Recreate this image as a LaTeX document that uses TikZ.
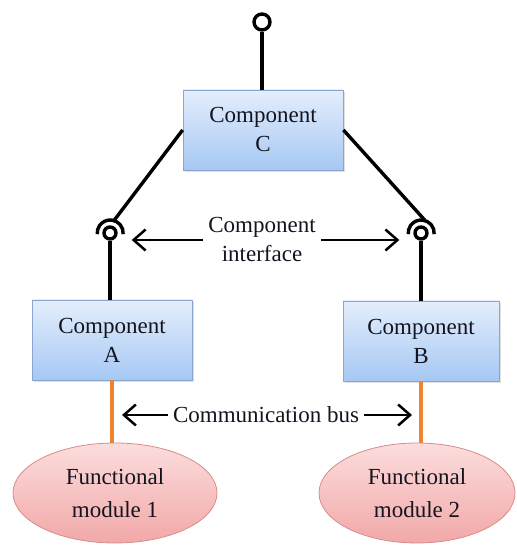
\documentclass[tikz,border=0pt]{standalone}
\usepackage{fontspec}
\setmainfont{Liberation Serif}
\usetikzlibrary{arrows.meta,shapes.geometric,shadows}

\definecolor{boxtop}{HTML}{E4EEFC}
\definecolor{boxbot}{HTML}{A6C8F4}
\definecolor{boxline}{HTML}{8AA6D0}
\definecolor{modtop}{HTML}{FCDDDD}
\definecolor{modbot}{HTML}{F2A8A8}
\definecolor{modline}{HTML}{D88C8C}
\definecolor{busline}{HTML}{EE8430}
\definecolor{ink}{HTML}{141420}

\newcommand\diaglabel{\fontsize{23}{29}\selectfont}

\begin{document}
\begin{tikzpicture}[x=1pt,y=1pt,
  comp/.style={rectangle, draw=boxline, line width=0.8pt,
    top color=boxtop, bottom color=boxbot,
    minimum height=80pt, align=center, font=\diaglabel, text=ink,
    drop shadow={opacity=0.25, shadow xshift=2pt, shadow yshift=-2.5pt}},
  module/.style={ellipse, draw=modline, line width=0.8pt,
    top color=modtop, bottom color=modbot,
    minimum height=100pt, inner sep=0pt, align=center,
    font=\fontsize{23}{33}\selectfont, text=ink},
  ball/.style={circle, draw=black, line width=3.4pt, inner sep=0pt},
  socket/.style={circle, inner sep=0pt, minimum size=26pt},
  wire/.style={draw=black, line width=3.4pt},
  bus/.style={draw=busline, line width=3.2pt},
  pointer/.style={line width=2.5pt, -{Straight Barb[length=12pt,width=21pt]}},
  caption/.style={align=center, font=\diaglabel, text=ink, inner sep=5pt}]

\useasboundingbox (0,0) rectangle (516,545);

% components
\node[comp, minimum width=160pt] (C) at (263,415) {Component\\C};
\node[comp, minimum width=160pt] (A) at (112,205) {Component\\A};
\node[comp, minimum width=156pt] (B) at (421,204) {Component\\B};

% functional modules
\node[module, minimum width=204pt] (M1) at (115,52) {Functional\\module 1};
\node[module, minimum width=196pt] (M2) at (417,52) {Functional\\module 2};

% provided interface on top of C
\node[ball, minimum size=16pt] (top) at (262,523) {};
\draw[wire] (top.south) -- (top.south |- C.north);

% ball-and-socket interfaces between C and A / B
\node[ball, minimum size=12pt] (ia) at (110,312) {};
\node[socket] (sa) at (110,312) {};
\node[ball, minimum size=12pt] (ib) at (421,312) {};
\node[socket] (sb) at (421,312) {};
\draw[wire] (sa.-5) arc (-5:185:13pt);
\draw[wire] (sb.-5) arc (-5:185:13pt);
\draw[wire] (C.west) -- (sa.72);
\draw[wire] (C.east) -- (sb.72);
\draw[wire] (ia.south) -- (ia.south |- A.north);
\draw[wire] (ib.south) -- (ib.south |- B.north);

% communication bus
\draw[bus] (A.south) -- (A.south |- M1.north);
\draw[bus] (B.south) -- (B.south |- M2.north);

% labels with pointers
\node[caption] (iface) at (262,305) {Component\\interface};
\draw[pointer, shorten >=14pt] (iface.west) -- (iface.west -| ia.east);
\draw[pointer, shorten >=14pt] (iface.east) -- (iface.east -| ib.west);

\node[caption] (busl) at (266,130) {Communication bus};
\draw[pointer, shorten >=10pt] (busl.west) -- (busl.west -| A.south);
\draw[pointer, shorten >=9pt] (busl.east) -- (busl.east -| B.south);
\end{tikzpicture}
\end{document}
